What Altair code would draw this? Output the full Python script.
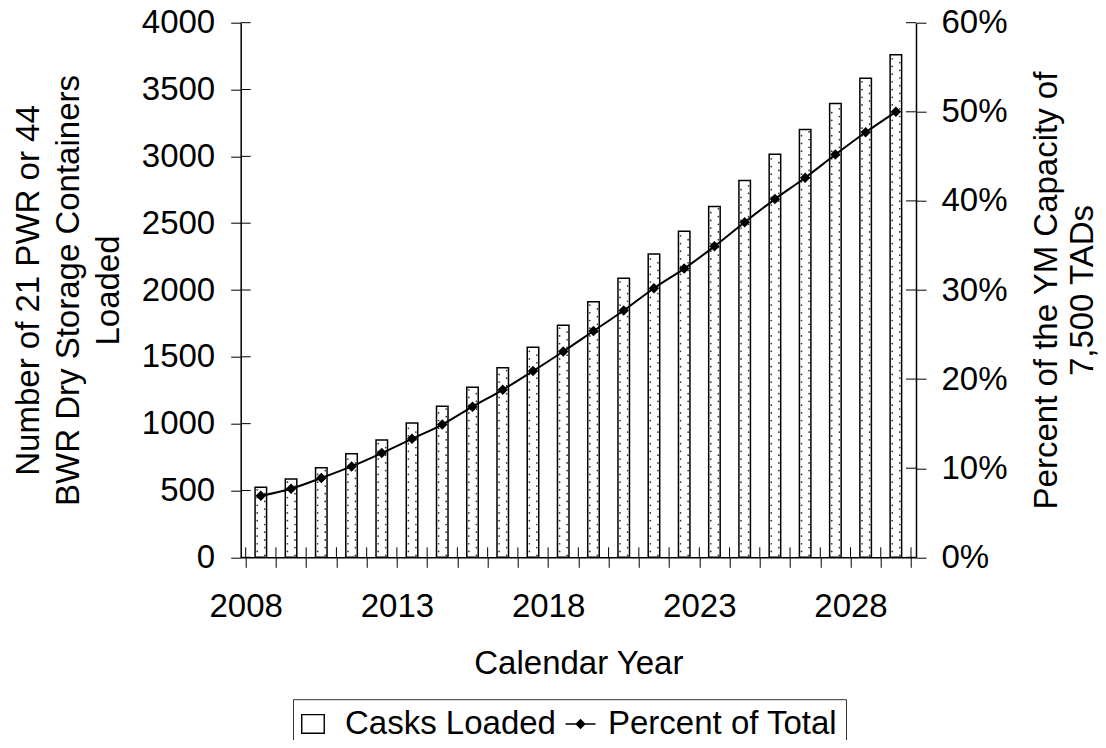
import altair as alt
import pandas as pd

# ---- data ----
years = list(range(2008, 2030))
casks = [525, 585, 670, 775, 877, 1005, 1130, 1272, 1418, 1572, 1737, 1912,
         2088, 2270, 2440, 2625, 2820, 3015, 3200, 3395, 3585, 3760]
pct = [0.069, 0.077, 0.089, 0.102, 0.117, 0.133, 0.149, 0.169, 0.188, 0.209,
       0.231, 0.254, 0.277, 0.302, 0.324, 0.349, 0.376, 0.402, 0.426, 0.452,
       0.477, 0.500]
left_ticks = [0, 500, 1000, 1500, 2000, 2500, 3000, 3500, 4000]
right_ticks = [0, 0.1, 0.2, 0.3, 0.4, 0.5, 0.6]
year_ticks = list(range(2008, 2031))
series = ["Casks Loaded", "Percent of Total"]
left_title = ["Number of 21 PWR or 44", "BWR Dry Storage Containers", "Loaded"]
right_title = ["Percent of the YM Capacity of", "7,500 TADs"]

W, H = 675.3, 534.6
FONT = "Liberation Sans"
FS = 33

df = pd.DataFrame({"year": years, "casks": casks, "pct": pct})
base = alt.Chart(df).transform_calculate(xc="datum.year + 0.5")

xscale = alt.Scale(domain=[2008, 2030], nice=False, zero=False)
xaxis = alt.Axis(values=year_ticks,
                 labelExpr="(datum.value - 2008) % 5 == 0 ? '' + datum.value : ''",
                 labelOverlap=False, labelFlush=False,
                 title="Calendar Year", tickSize=10, labelPadding=23,
                 titleX=W / 2, titleY=115.7, titleBaseline="alphabetic",
                 titleAlign="center", grid=False)

yl_scale = alt.Scale(domain=[0, 4000], nice=False, zero=True)
yl_axis = alt.Axis(values=left_ticks, format="d", title=left_title,
                   titleAngle=270, titleX=-202.4, titleY=H / 2,
                   titleBaseline="alphabetic", titleAlign="center",
                   titleLineHeight=40, labelPadding=16, tickSize=10,
                   grid=False, labelFlush=False, labelOverlap=False)

yr_scale = alt.Scale(domain=[0, 0.6], nice=False, zero=True)
yr_axis = alt.Axis(orient="right", values=right_ticks, format=".0%",
                   title=right_title, titleAngle=270, titleX=140, titleY=H / 2,
                   titleBaseline="alphabetic", titleAlign="center",
                   titleLineHeight=36, labelPadding=15, tickSize=10, grid=False,
                   labelFlush=False, labelOverlap=False)

bars = base.mark_bar(width=11.5, fill="white", stroke="black",
                     strokeWidth=1.5).encode(
    x=alt.X("xc:Q", scale=xscale, axis=xaxis),
    y=alt.Y("casks:Q", scale=yl_scale, axis=yl_axis),
)

# dotted texture inside the bars
dots = (base
        .transform_calculate(d="sequence(15, datum.casks - 12, 28.8)")
        .transform_flatten(["d"])
        .transform_calculate(
            xd="datum.year + 0.5 + (round(datum.d / 28.8) % 2 == 0 ? -0.12 : 0.13)")
        .mark_circle(size=3, color="#333333", opacity=1)
        .encode(x=alt.X("xd:Q", scale=xscale, axis=xaxis),
                y=alt.Y("d:Q", scale=yl_scale, axis=yl_axis)))

lt = alt.Chart(pd.DataFrame({"v": left_ticks})).mark_rule(
    color="black", strokeWidth=1).encode(
    y=alt.Y("v:Q", scale=yl_scale, axis=yl_axis),
    x=alt.value(0), x2=alt.value(10))

bt = alt.Chart(pd.DataFrame({"t": year_ticks})).mark_rule(
    color="black", strokeWidth=1).encode(
    x=alt.X("t:Q", scale=xscale, axis=xaxis),
    y=alt.value(H - 10), y2=alt.value(H))

line = base.mark_line(color="black", strokeWidth=2,
                      interpolate="monotone").encode(
    x=alt.X("xc:Q", scale=xscale, axis=xaxis),
    y=alt.Y("pct:Q", scale=yr_scale, axis=yr_axis))

pts = base.mark_point(shape="diamond", size=110, filled=True, color="black",
                      opacity=1).encode(
    x=alt.X("xc:Q", scale=xscale, axis=xaxis),
    y=alt.Y("pct:Q", scale=yr_scale, axis=yr_axis))

rt = alt.Chart(pd.DataFrame({"v": right_ticks})).mark_rule(
    color="black", strokeWidth=1).encode(
    y=alt.Y("v:Q", scale=yr_scale, axis=yr_axis),
    x=alt.value(W - 10), x2=alt.value(W))

rect_path = "M-1.05,-0.62H0.45V0.62H-1.05Z"
line_path = "M-1,0H1M0,-0.28L0.28,0L0,0.28L-0.28,0Z"
leg_props = dict(orient="none", legendX=52.3, legendY=676.5,
                 direction="horizontal", title=None, labelFont=FONT,
                 labelFontSize=FS, labelColor="black", symbolSize=900,
                 symbolStrokeColor="black", symbolStrokeWidth=1.4,
                 symbolOpacity=1,
                 strokeColor="#333333", padding=8, columnPadding=6,
                 labelOffset=11, labelLimit=0)
leg = (alt.Chart(pd.DataFrame({"series": series}))
       .transform_filter("false")
       .mark_point(filled=True, strokeWidth=1.4, opacity=1)
       .encode(
           x=alt.value(0), y=alt.value(0),
           shape=alt.Shape("series:N",
                           scale=alt.Scale(domain=series,
                                           range=[rect_path, line_path]),
                           legend=alt.Legend(**leg_props)),
           fill=alt.Fill("series:N",
                         scale=alt.Scale(domain=series,
                                         range=["white", "black"]),
                         legend=alt.Legend(**leg_props)),
           stroke=alt.Stroke("series:N",
                             scale=alt.Scale(domain=series,
                                             range=["black", "black"]),
                             legend=alt.Legend(**leg_props)),
       ))

g1 = alt.layer(bars, dots, lt, bt)
g2 = alt.layer(line, pts, rt, leg)

chart = (alt.layer(g1, g2)
         .resolve_scale(y="independent")
         .properties(width=W, height=H,
                     autosize=alt.AutoSizeParams(type="none"),
                     padding={"left": 232.7, "top": 14.7,
                              "right": 182, "bottom": 182.7})
         .configure_view(stroke=None)
         .configure_axis(domainColor="black", domainWidth=1.5,
                         tickColor="black", tickWidth=1,
                         labelFont=FONT, labelFontSize=FS, labelColor="black",
                         titleFont=FONT, titleFontSize=FS, titleColor="black",
                         titleFontWeight="normal"))

chart.save("out.html", embed_options={"renderer": "svg", "actions": False})
